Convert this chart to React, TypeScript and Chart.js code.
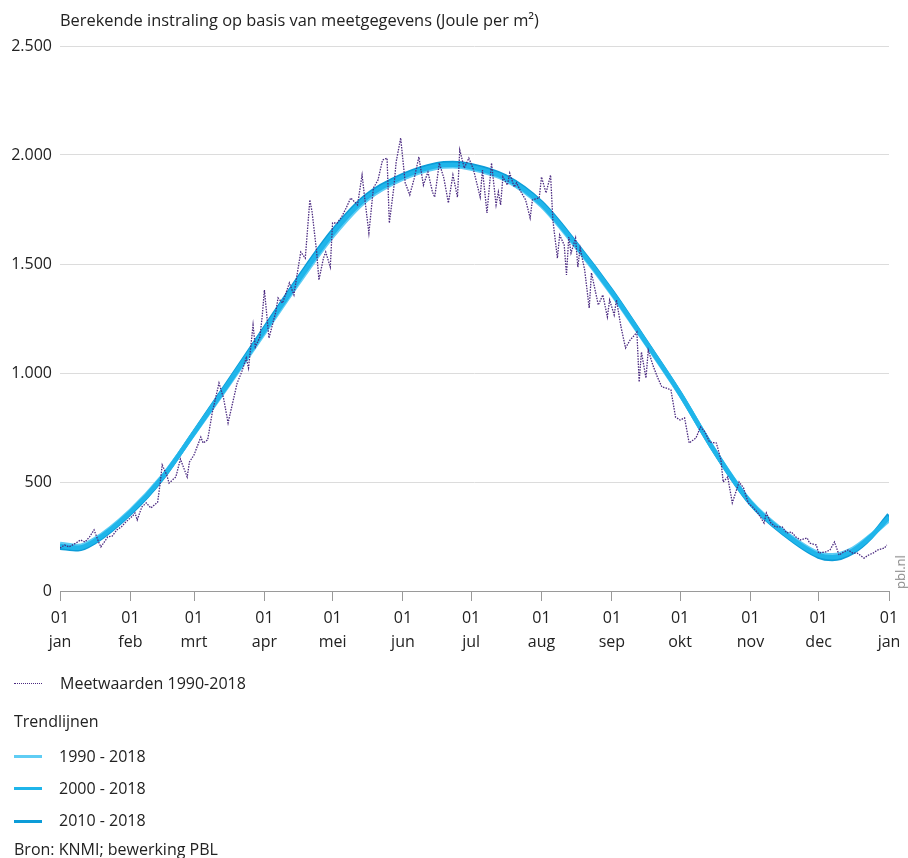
import React, { useEffect, useRef } from 'react';
import { Chart, registerables } from 'chart.js';

Chart.register(...registerables);

// ---- data ----
const monthStartDays = [0, 31, 59, 90, 120, 151, 181, 212, 243, 273, 304, 334, 365];
const monthLabels = ['jan', 'feb', 'mrt', 'apr', 'mei', 'jun', 'jul', 'aug', 'sep', 'okt', 'nov', 'dec', 'jan'];
const yTickValues = [0, 500, 1000, 1500, 2000, 2500];

const measDays = [
  0, 2, 4, 7, 9, 11, 13, 15, 17, 18, 21, 23, 25, 27, 29, 32, 33, 34, 36, 38, 40, 43, 44, 45, 47, 48, 51, 53, 56, 57,
  59, 62, 63, 65, 67, 70, 72, 74, 78, 80, 82, 83, 85, 86, 88, 89, 90, 92, 95, 96, 98, 101, 103, 104, 106, 108, 110, 111, 113, 114,
  116, 117, 119, 120, 122, 124, 126, 128, 131, 133, 134, 136, 138, 140, 142, 144, 145, 147, 148, 150, 152, 154, 156, 158, 160, 162, 164, 165, 167, 169,
  171, 173, 175, 176, 178, 180, 182, 185, 186, 188, 190, 192, 193, 194, 195, 197, 198, 200, 201, 203, 205, 207, 208, 211, 212, 214, 216, 217, 219, 220,
  222, 223, 224, 225, 227, 228, 229, 231, 233, 234, 237, 239, 241, 242, 244, 245, 247, 249, 251, 253, 254, 255, 256, 258, 259, 261, 263, 265, 267, 269,
  271, 273, 275, 277, 280, 282, 284, 286, 289, 291, 292, 294, 296, 299, 301, 303, 305, 307, 310, 311, 313, 315, 318, 320, 322, 324, 326, 329, 330, 333,
  334, 337, 339, 341, 343, 345, 347, 349, 351, 354, 356, 358, 360, 363, 364
];
const measValues = [
  197, 211, 202, 220, 234, 225, 248, 280, 225, 202, 248, 252, 280, 294, 317, 344, 358, 326, 385, 404, 381, 408, 486, 578, 532, 495, 523, 605, 523, 592,
  624, 706, 679, 693, 816, 954, 885, 771, 954, 1005, 1069, 1023, 1220, 1119, 1165, 1257, 1381, 1160, 1280, 1344, 1321, 1413, 1358, 1427, 1555, 1527, 1794, 1738, 1555, 1427,
  1527, 1555, 1486, 1688, 1688, 1716, 1757, 1803, 1771, 1908, 1817, 1642, 1849, 1885, 1977, 1986, 1688, 1853, 1968, 2078, 1872, 1817, 1894, 1991, 1862, 1922, 1830, 1807, 1963, 1894,
  1780, 1908, 1807, 2023, 1940, 1986, 1935, 1807, 1931, 1734, 1963, 1771, 1830, 1771, 1899, 1862, 1917, 1853, 1872, 1830, 1794, 1711, 1794, 1803, 1899, 1826, 1908, 1702, 1527, 1633,
  1587, 1450, 1624, 1550, 1619, 1486, 1573, 1473, 1298, 1459, 1312, 1358, 1257, 1335, 1266, 1335, 1211, 1115, 1151, 1174, 1188, 959, 1096, 977, 1105, 1037, 982, 936, 931, 922,
  798, 784, 794, 679, 702, 752, 729, 683, 679, 601, 500, 523, 404, 500, 472, 404, 385, 362, 312, 358, 312, 294, 294, 266, 271, 248, 234, 243, 220, 211,
  174, 179, 188, 225, 165, 179, 188, 174, 174, 151, 165, 174, 188, 197, 211
];

const trendDays = [0, 8, 15, 31, 45, 59, 74, 90, 105, 120, 135, 151, 166, 173, 181, 196, 212, 227, 243, 258, 273, 288, 304, 319, 334, 340, 349, 357, 365];
const trend1990 = [216, 206, 235, 368, 524, 723, 944, 1186, 1414, 1628, 1795, 1892, 1943, 1948, 1938, 1888, 1768, 1583, 1364, 1136, 903, 647, 409, 271, 173, 164, 193, 254, 325];
const trend2000 = [207, 198, 228, 362, 520, 725, 950, 1195, 1425, 1640, 1805, 1900, 1950, 1955, 1945, 1895, 1775, 1590, 1370, 1140, 905, 645, 405, 265, 165, 155, 185, 250, 338];
const trend2010 = [199, 191, 222, 357, 517, 727, 956, 1204, 1435, 1650, 1814, 1908, 1958, 1963, 1953, 1902, 1781, 1596, 1375, 1143, 906, 643, 402, 260, 158, 147, 178, 247, 350];

const FONT = '"Open Sans", "Noto Sans", sans-serif';
const TEXT = '#222';
const C1990 = '#5fcdf4';
const C2000 = '#1fb5ea';
const C2010 = '#0c9cd8';
const CMEAS = '#4b2a80';

function fmt(v: number): string {
  if (v >= 1000) return `${Math.floor(v / 1000)}.${String(v % 1000).padStart(3, '0')}`;
  return String(v);
}

const toXY = (xs: number[], ys: number[]) => xs.map((x, i) => ({ x, y: ys[i] }));

export default function App() {
  const ref = useRef<HTMLCanvasElement>(null);

  useEffect(() => {
    if (!ref.current) return;
    const trendStyle = {
      borderWidth: 4.5,
      pointRadius: 0,
      fill: false,
      cubicInterpolationMode: 'monotone' as const,
    };
    const chart = new Chart(ref.current, {
      type: 'line',
      data: {
        datasets: [
          {
            label: 'Meetwaarden 1990-2018',
            data: toXY(measDays, measValues),
            borderColor: CMEAS,
            borderWidth: 1.3,
            borderDash: [1.5, 1.2],
            pointRadius: 0,
            tension: 0,
            fill: false,
            order: 0,
          },
          { label: '1990 - 2018', data: toXY(trendDays, trend1990), borderColor: C1990, order: 2, ...trendStyle },
          { label: '2000 - 2018', data: toXY(trendDays, trend2000), borderColor: C2000, order: 1, ...trendStyle },
          { label: '2010 - 2018', data: toXY(trendDays, trend2010), borderColor: C2010, order: 3, ...trendStyle },
        ],
      },
      options: {
        responsive: false,
        animation: false,
        devicePixelRatio: 1,
        layout: { padding: { top: 46, right: 19, bottom: 197, left: 0 } },
        plugins: { legend: { display: false }, tooltip: { enabled: false } },
        scales: {
          x: {
            type: 'linear',
            min: 0,
            max: 365,
            afterBuildTicks: (s: any) => {
              s.ticks = monthStartDays.map((v) => ({ value: v }));
            },
            afterFit: (s: any) => {
              s.height = 70;
            },
            ticks: {
              autoSkip: false,
              maxRotation: 0,
              minRotation: 0,
              padding: 5,
              color: TEXT,
              font: { family: FONT, size: 16, lineHeight: 1.5 },
              callback: (_v: any, i: number) => ['01', monthLabels[i]],
            },
            grid: { drawOnChartArea: false, drawTicks: true, tickLength: 10, color: '#9a9a9a' },
            border: { display: true, color: '#9a9a9a' },
          },
          y: {
            min: 0,
            max: 2500,
            afterBuildTicks: (s: any) => {
              s.ticks = yTickValues.map((v) => ({ value: v }));
            },
            afterFit: (s: any) => {
              s.width = 60;
            },
            ticks: {
              padding: 8,
              color: TEXT,
              font: { family: FONT, size: 16 },
              callback: (v: any) => fmt(Number(v)),
            },
            grid: { color: '#dcdcdc', drawTicks: false },
            border: { display: false },
          },
        },
      },
    });
    return () => chart.destroy();
  }, []);

  const txt: React.CSSProperties = {
    position: 'absolute',
    fontFamily: FONT,
    fontSize: 16,
    color: TEXT,
    whiteSpace: 'nowrap',
    lineHeight: '20px',
  };
  const sample = (top: number, color: string): React.CSSProperties => ({
    position: 'absolute',
    left: 14,
    top,
    width: 28,
    height: 0,
    borderTop: `3px solid ${color}`,
  });

  return (
    <div style={{ position: 'absolute', left: 0, top: 0, width: 908, height: 858, background: '#fff', overflow: 'hidden' }}>
      <canvas ref={ref} width={908} height={858} style={{ position: 'absolute', left: 0, top: 0, width: 908, height: 858 }} />
      <div style={{ ...txt, left: 60, top: 10, fontSize: 16.4 }}>
        Berekende instraling op basis van meetgegevens (Joule per m²)
      </div>
      <div
        style={{
          ...txt,
          fontSize: 13,
          color: '#8a8a8a',
          left: 900,
          top: 572,
          transform: 'translate(-50%, -50%) rotate(-90deg)',
          lineHeight: '14px',
        }}
      >
        pbl.nl
      </div>
      <div
        style={{
          position: 'absolute',
          left: 14,
          top: 683,
          width: 28,
          height: 0,
          borderTop: `1.5px dotted ${CMEAS}`,
        }}
      />
      <div style={{ ...txt, left: 60, top: 673 }}>Meetwaarden 1990-2018</div>
      <div style={{ ...txt, left: 14, top: 711 }}>Trendlijnen</div>
      <div style={sample(755, C1990)} />
      <div style={{ ...txt, left: 59, top: 746 }}>1990 - 2018</div>
      <div style={sample(787, C2000)} />
      <div style={{ ...txt, left: 59, top: 778 }}>2000 - 2018</div>
      <div style={sample(820, C2010)} />
      <div style={{ ...txt, left: 59, top: 810 }}>2010 - 2018</div>
      <div style={{ ...txt, left: 14, top: 839 }}>Bron: KNMI; bewerking PBL</div>
    </div>
  );
}
